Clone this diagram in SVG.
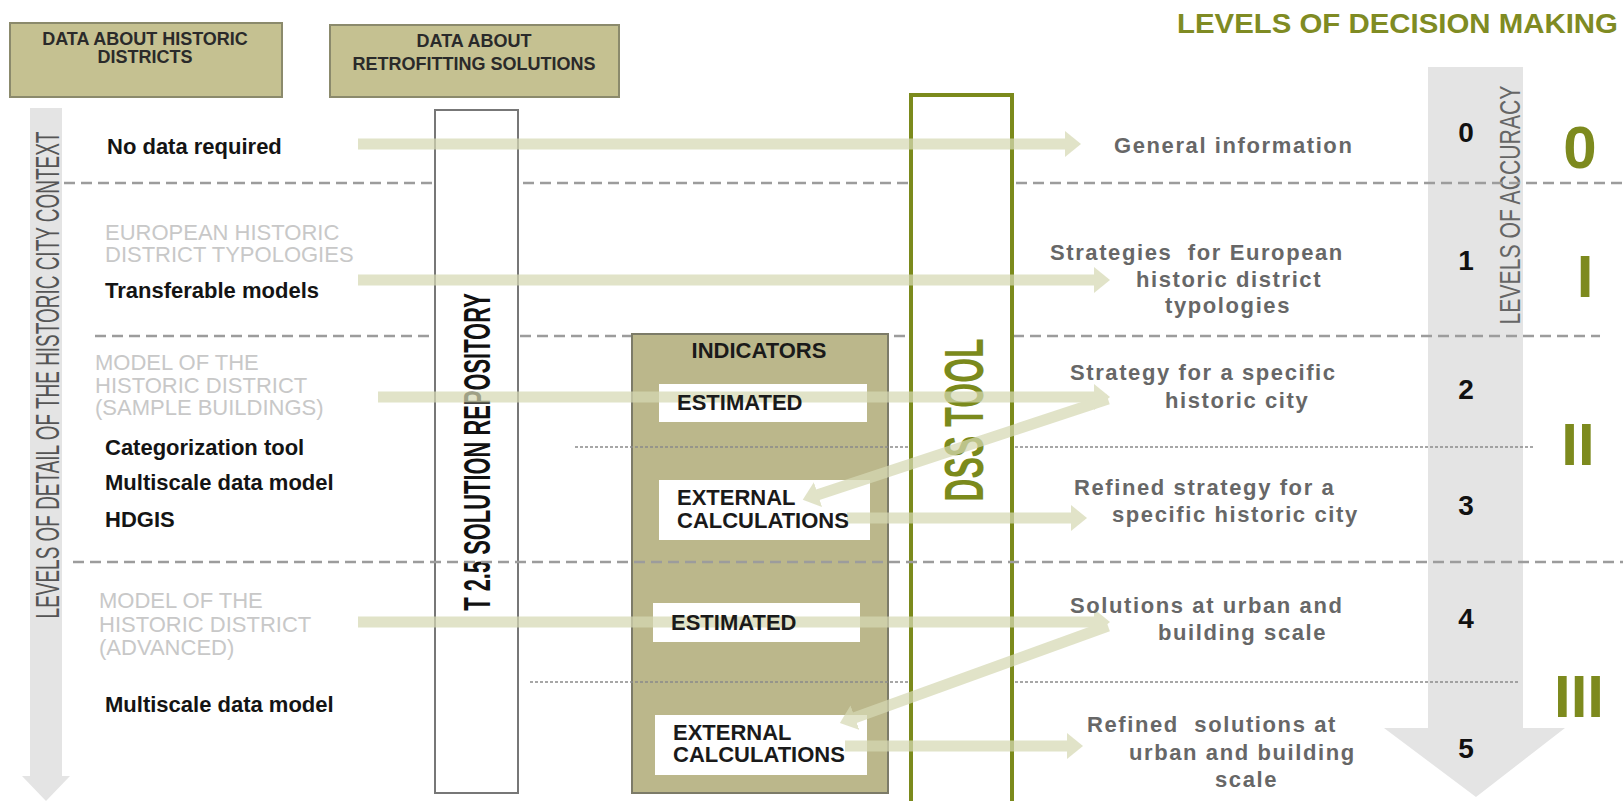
<svg xmlns="http://www.w3.org/2000/svg" width="1623" height="801" viewBox="0 0 1623 801">
  <defs>
    <style>
      .t{font-family:"Liberation Sans",Arial,sans-serif}
      .hdr{fill:#c5c191;stroke:#8b8a6c;stroke-width:2}
      .hdrt{font-size:18px;font-weight:bold;fill:#2a2a2a;text-anchor:middle}
      .lbl{font-size:22px;font-weight:bold;fill:#141414}
      .ghost{font-size:22px;fill:#c8c8c8}
      .out{font-size:22px;font-weight:bold;fill:#676767;letter-spacing:1.6px}
      .num{font-size:28px;font-weight:bold;fill:#111;text-anchor:middle}
      .rom{font-size:60px;font-weight:bold;fill:#7d8a1e;text-anchor:middle}
      .ind{font-size:22px;font-weight:bold;fill:#1a1a1a}
      .wbox{fill:#ffffff;stroke:none}
      .dash{stroke:#9c9c9c;stroke-width:2.5;stroke-dasharray:11 6;fill:none}
      .dot{stroke:#8a8a8a;stroke-width:1.3;stroke-dasharray:3 2;fill:none}
      .arr{stroke:#d6d9b4;stroke-width:11;fill:none;marker-end:url(#ah)}
      .band{fill:#e4e4e4}
    </style>
    <marker id="ah" markerUnits="userSpaceOnUse" markerWidth="18" markerHeight="26" refX="1" refY="13" orient="auto">
      <path d="M0,0 L16,13 L0,26 Z" fill="#d6d9b4"/>
    </marker>
  </defs>

  <rect x="0" y="0" width="1623" height="801" fill="#ffffff"/>

  <!-- vertical axis: level of detail -->
  <g id="axis-detail">
    <path class="band" d="M30,108 H62 V776 H70 L46,801 L22,776 H30 Z"/>
    <text class="t" transform="translate(59,375) rotate(-90) scale(0.558,1)" text-anchor="middle" font-size="34" fill="#555">LEVELS OF DETAIL OF THE HISTORIC CITY CONTEXT</text>
  </g>

  <!-- vertical axis: accuracy -->
  <g id="axis-accuracy">
    <path class="band" d="M1428,67 H1523 V728 H1565 L1476,797 L1384,728 H1428 Z"/>
    <text class="t" transform="translate(1520,205) rotate(-90) scale(0.706,1)" text-anchor="middle" font-size="30" fill="#666">LEVELS OF ACCURACY</text>
  </g>

  <!-- level separators -->
  <g id="separators-back">
    <line class="dash" x1="64" y1="183" x2="1623" y2="183"/>
    <line class="dash" x1="95" y1="336" x2="1600" y2="336"/>
  </g>

  <g id="header-districts">
    <rect class="hdr" x="10" y="23" width="272" height="74"/>
    <text class="t hdrt" x="145" y="45">DATA ABOUT HISTORIC</text>
    <text class="t hdrt" x="145" y="63">DISTRICTS</text>
  </g>

  <g id="header-solutions">
    <rect class="hdr" x="330" y="25" width="289" height="72"/>
    <text class="t hdrt" x="474" y="47">DATA ABOUT</text>
    <text class="t hdrt" x="474" y="70">RETROFITTING SOLUTIONS</text>
  </g>

  <g id="solution-repository">
    <rect x="435" y="110" width="83" height="683" fill="#ffffff" stroke="#777" stroke-width="2"/>
    <text class="t" transform="translate(490,452) rotate(-90) scale(0.592,1)" text-anchor="middle" font-size="37" font-weight="bold" fill="#111">T 2.5 SOLUTION REPOSITORY</text>
  </g>

  <g id="indicators">
    <rect x="632" y="334" width="256" height="459" fill="#bbb78b" stroke="#7c7b68" stroke-width="2"/>
    <text class="t ind" x="759" y="358" text-anchor="middle">INDICATORS</text>
    <g id="estimated-1">
      <rect class="wbox" x="659" y="384" width="208" height="38"/>
    </g>
    <g id="external-1">
      <rect class="wbox" x="659" y="480" width="211" height="60"/>
    </g>
    <g id="estimated-2">
      <rect class="wbox" x="653" y="603" width="207" height="39"/>
    </g>
    <g id="external-2">
      <rect class="wbox" x="655" y="715" width="212" height="60"/>
    </g>
  </g>

  <g id="separators-fine">
    <line class="dot" x1="575" y1="447" x2="1534" y2="447"/>
    <line class="dot" x1="530" y1="682" x2="1520" y2="682"/>
  </g>

  <g id="dss-tool">
    <rect x="911" y="95" width="101" height="710" fill="#ffffff" stroke="#7b8a1c" stroke-width="4"/>
    <text class="t" transform="translate(983,420) rotate(-90) scale(0.573,1)" text-anchor="middle" font-size="56" font-weight="bold" fill="#7b8a1c">DSS TOOL</text>
  </g>

  <g id="separators-front">
    <line class="dash" x1="73" y1="562" x2="1623" y2="562"/>
  </g>

  <!-- flows from data to decision levels -->
  <g id="connectors" opacity="0.72">
    <line class="arr" x1="358" y1="144" x2="1066" y2="144"/>
    <line class="arr" x1="358" y1="280" x2="1095" y2="280"/>
    <line class="arr" x1="378" y1="397" x2="1095" y2="397"/>
    <line class="arr" x1="1108" y1="399" x2="817" y2="495"/>
    <line class="arr" x1="847" y1="518" x2="1072" y2="518"/>
    <line class="arr" x1="358" y1="622" x2="1095" y2="622"/>
    <line class="arr" x1="1108" y1="626" x2="854" y2="718"/>
    <line class="arr" x1="845" y1="746" x2="1068" y2="746"/>
  </g>

  <!-- indicator labels above the flows -->
  <g id="indicator-labels">
    <text class="t ind" x="677" y="410">ESTIMATED</text>
    <text class="t ind" x="677" y="505">EXTERNAL</text>
    <text class="t ind" x="677" y="528">CALCULATIONS</text>
    <text class="t ind" x="671" y="630">ESTIMATED</text>
    <text class="t ind" x="673" y="740">EXTERNAL</text>
    <text class="t ind" x="673" y="762">CALCULATIONS</text>
  </g>

  <!-- data inputs per level -->
  <g id="inputs">
    <text class="t lbl" x="107" y="154">No data required</text>
    <text class="t ghost" x="105" y="240">EUROPEAN HISTORIC</text>
    <text class="t ghost" x="105" y="262">DISTRICT TYPOLOGIES</text>
    <text class="t lbl" x="105" y="298">Transferable models</text>
    <text class="t ghost" x="95" y="370">MODEL OF THE</text>
    <text class="t ghost" x="95" y="393">HISTORIC DISTRICT</text>
    <text class="t ghost" x="95" y="415">(SAMPLE BUILDINGS)</text>
    <text class="t lbl" x="105" y="455">Categorization tool</text>
    <text class="t lbl" x="105" y="490">Multiscale data model</text>
    <text class="t lbl" x="105" y="527">HDGIS</text>
    <text class="t ghost" x="99" y="608">MODEL OF THE</text>
    <text class="t ghost" x="99" y="632">HISTORIC DISTRICT</text>
    <text class="t ghost" x="99" y="655">(ADVANCED)</text>
    <text class="t lbl" x="105" y="712">Multiscale data model</text>
  </g>

  <!-- decision outputs per level -->
  <g id="outputs">
    <text class="t out" x="1114" y="153">General information</text>
    <text class="t out" x="1050" y="260" xml:space="preserve">Strategies  for European</text>
    <text class="t out" x="1136" y="287">historic district</text>
    <text class="t out" x="1165" y="313">typologies</text>
    <text class="t out" x="1070" y="380">Strategy for a specific</text>
    <text class="t out" x="1165" y="408">historic city</text>
    <text class="t out" x="1074" y="495">Refined strategy for a</text>
    <text class="t out" x="1112" y="522">specific historic city</text>
    <text class="t out" x="1070" y="613">Solutions at urban and</text>
    <text class="t out" x="1158" y="640">building scale</text>
    <text class="t out" x="1087" y="732" xml:space="preserve">Refined  solutions at</text>
    <text class="t out" x="1129" y="760">urban and building</text>
    <text class="t out" x="1215" y="787">scale</text>
  </g>

  <g id="accuracy-levels">
    <text class="t num" x="1466" y="142">0</text>
    <text class="t num" x="1466" y="270">1</text>
    <text class="t num" x="1466" y="399">2</text>
    <text class="t num" x="1466" y="515">3</text>
    <text class="t num" x="1466" y="628">4</text>
    <text class="t num" x="1466" y="758">5</text>
  </g>

  <g id="decision-levels">
    <text class="t" transform="translate(1177,33) scale(1.089,1)" font-size="27" font-weight="bold" fill="#7f8b23">LEVELS OF DECISION MAKING</text>
    <text class="t rom" x="1580" y="168">0</text>
    <text class="t rom" x="1585" y="297">I</text>
    <text class="t rom" x="1578" y="465">II</text>
    <text class="t rom" x="1579" y="717">III</text>
  </g>
</svg>
